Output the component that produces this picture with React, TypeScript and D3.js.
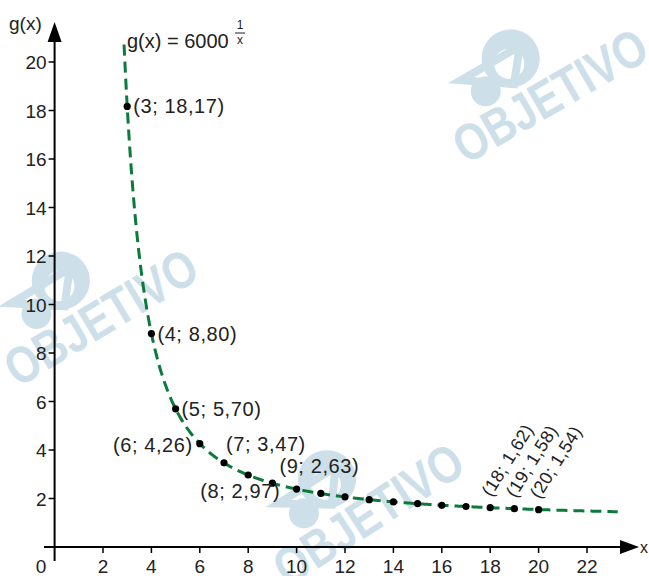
import React from "react";
import * as d3 from "d3";

const xTicks = [2, 4, 6, 8, 10, 12, 14, 16, 18, 20, 22];
const yTicks = [2, 4, 6, 8, 10, 12, 14, 16, 18, 20];
const pointX = [3, 4, 5, 6, 7, 8, 9, 10, 11, 12, 13, 14, 15, 16, 17, 18, 19, 20];
const pointY = [18.17, 8.8, 5.7, 4.26, 3.47, 2.97, 2.63, 2.39, 2.21, 2.07, 1.95, 1.86, 1.79, 1.72, 1.67, 1.62, 1.58, 1.54];
const labelX = [3, 4, 5, 6, 7, 8, 9];
const labelText = ["(3; 18,17)", "(4; 8,80)", "(5; 5,70)", "(6; 4,26)", "(7; 3,47)", "(8; 2,97)", "(9; 2,63)"];
const labelPlace = ["right", "right", "right", "left", "aboveRight", "belowLeft", "aboveRight"];
const rotX = [18, 19, 20];
const rotText = ["(18; 1,62)", "(19; 1,58)", "(20; 1,54)"];
const curveStart = 2.87;
const curveEnd = 23.3;

const FONT = "'Liberation Sans', Arial, sans-serif";
const GREEN = "#0b7a3a";
const WM = "#cde0ea";
const TXT = "#222";

function Watermark({ x, y, angle }: { x: number; y: number; angle: number }) {
  return (
    <g transform={`translate(${x},${y}) rotate(${angle})`}>
      <g transform="translate(62,-70)">
        <circle cx={30} cy={0} r={29} fill={WM} />
        <circle cx={26} cy={4} r={15} fill="#ffffff" />
        <circle cx={-8} cy={16} r={15} fill={WM} />
        <path d="M -24 -6 L 44 -6 L 20 24 Z" fill="none" stroke={WM} strokeWidth={8} />
      </g>
      <text x={0} y={0} fontFamily={FONT} fontWeight="bold" fontSize={52} fill={WM} textLength={215} lengthAdjust="spacingAndGlyphs">
        OBJETIVO
      </text>
    </g>
  );
}

export default function App() {
  const W = 649;
  const H = 576;
  const x = d3.scaleLinear().domain([0, 22]).range([54.6, 587]);
  const y = d3.scaleLinear().domain([0, 20]).range([547, 62]);
  const g = (v: number) => Math.pow(6000, 1 / v);
  const curvePts = d3.range(curveStart, curveEnd + 0.001, 0.05).map((v) => [v, g(v)] as [number, number]);
  const line = d3.line<[number, number]>().x((d) => x(d[0])).y((d) => y(d[1])).curve(d3.curveMonotoneX);
  const ox = x(0);
  const oy = y(0);

  return (
    <svg width={W} height={H} style={{ position: "absolute", left: 0, top: 0 }}>
      <rect width={W} height={H} fill="#ffffff" />
      <Watermark x={466} y={165} angle={-30} />
      <Watermark x={18} y={388} angle={-31} />
      <Watermark x={288} y={588} angle={-33} />

      {/* axes */}
      <line x1={ox} y1={40} x2={ox} y2={561} stroke="#000" strokeWidth={2} />
      <path d={`M ${ox - 7} 42 L ${ox} 22 L ${ox + 7} 42 Z`} fill="#000" />
      <line x1={44} y1={oy} x2={622} y2={oy} stroke="#000" strokeWidth={2} />
      <path d={`M 620 ${oy - 7} L 639 ${oy} L 620 ${oy + 7} Z`} fill="#000" />
      <text x={640} y={oy + 6} fontFamily={FONT} fontSize={16} fill={TXT}>x</text>
      <text x={9} y={30} fontFamily={FONT} fontSize={19} fill={TXT}>g(x)</text>
      <text x={41} y={573} textAnchor="middle" fontFamily={FONT} fontSize={19} fill={TXT}>0</text>

      {xTicks.map((t) => (
        <g key={`xt${t}`}>
          <line x1={x(t)} x2={x(t)} y1={oy} y2={oy + 6} stroke="#000" strokeWidth={1.5} />
          <text x={x(t)} y={573} textAnchor="middle" fontFamily={FONT} fontSize={19} fill={TXT}>{t}</text>
        </g>
      ))}
      {yTicks.map((t) => (
        <g key={`yt${t}`}>
          <line x1={ox - 6} x2={ox} y1={y(t)} y2={y(t)} stroke="#000" strokeWidth={1.5} />
          <text x={ox - 8} y={y(t) + 7} textAnchor="end" fontFamily={FONT} fontSize={19} fill={TXT}>{t}</text>
        </g>
      ))}

      {/* curve */}
      <path d={line(curvePts) || ""} fill="none" stroke={GREEN} strokeWidth={3} strokeDasharray="11 6" />

      {/* title */}
      <text x={127} y={48} fontFamily={FONT} fontSize={20} fill={TXT}>g(x) = 6000</text>
      <text x={240} y={29} textAnchor="middle" fontFamily={FONT} fontSize={12} fill={TXT}>1</text>
      <line x1={235} x2={245} y1={33} y2={33} stroke={TXT} strokeWidth={1} />
      <text x={240} y={44} textAnchor="middle" fontFamily={FONT} fontSize={12} fill={TXT}>x</text>

      {/* points */}
      {pointX.map((px, i) => (
        <circle key={`p${px}`} cx={x(px)} cy={y(pointY[i])} r={3.6} fill="#000" />
      ))}

      {/* labels */}
      {labelX.map((lx, i) => {
        const px = x(lx);
        const py = y(pointY[pointX.indexOf(lx)]);
        const p = labelPlace[i];
        let tx = px + 6;
        let ty = py + 7;
        let anchor: "start" | "end" = "start";
        if (p === "left") { tx = px - 7; anchor = "end"; ty = py + 8; }
        if (p === "aboveRight") { tx = px + 2; ty = py - 12; }
        if (p === "belowLeft") { tx = px + 32; ty = py + 23; anchor = "end"; }
        if (lx === 9) { tx = px + 7; ty = py - 10; }
        return (
          <text key={`l${lx}`} x={tx} y={ty} textAnchor={anchor} fontFamily={FONT} fontSize={20} letterSpacing={0.6} fill={TXT}>{labelText[i]}</text>
        );
      })}
      {rotX.map((rx, i) => {
        const px = x(rx);
        const py = y(pointY[pointX.indexOf(rx)]);
        return (
          <text key={`r${rx}`} transform={`translate(${px + 1},${py - 10}) rotate(-58)`} fontFamily={FONT} fontSize={18} letterSpacing={0.4} fill={TXT}>{rotText[i]}</text>
        );
      })}
    </svg>
  );
}
